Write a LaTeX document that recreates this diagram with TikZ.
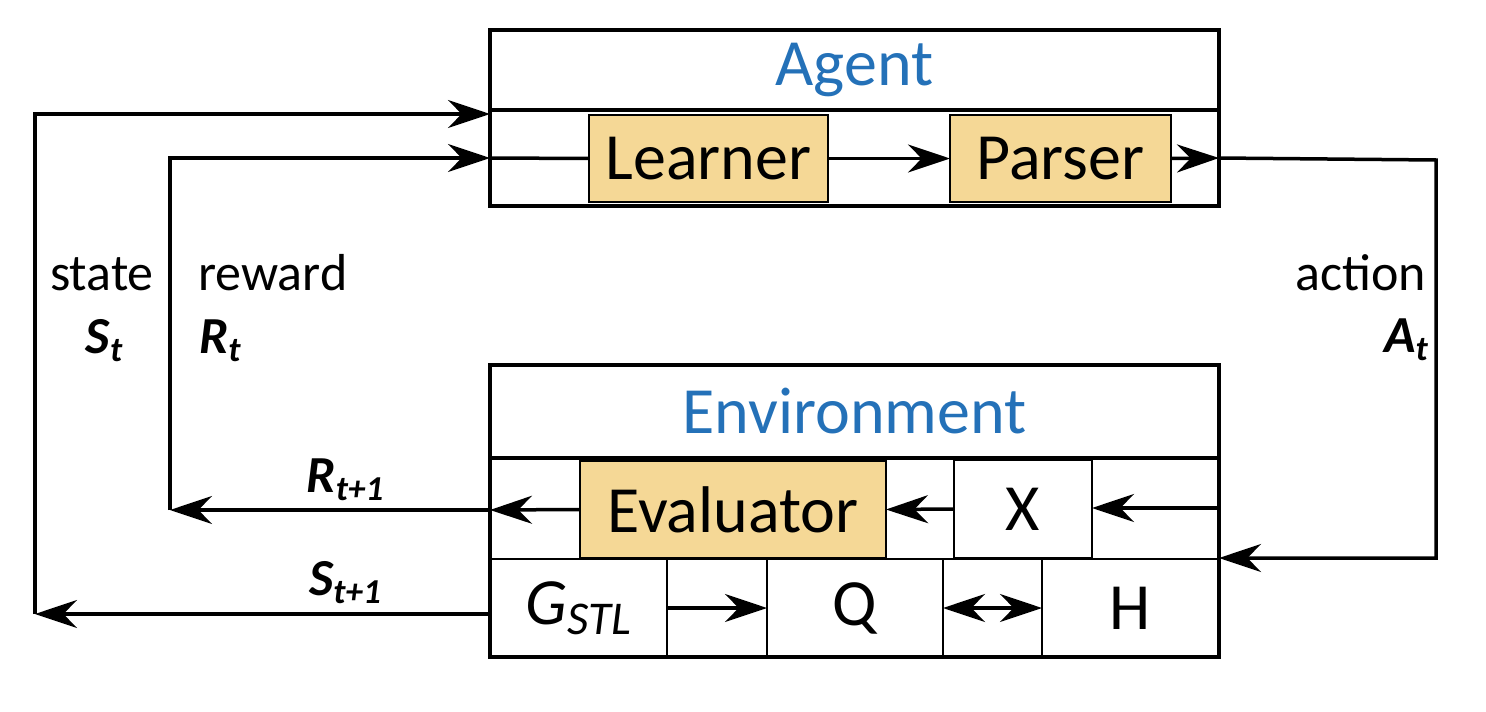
\documentclass[tikz,border=0pt]{standalone}
\usepackage{fontspec}
\setmainfont{Carlito}
\usetikzlibrary{arrows.meta}
\definecolor{boxfill}{RGB}{245,216,150}
\definecolor{titleblue}{RGB}{36,113,184}
\newcommand\lsub[1]{\raisebox{-8pt}{\fontsize{35}{38}\selectfont #1}}
\begin{document}
\begin{tikzpicture}[x=1pt,y=-1pt,
  obox/.style={draw, line width=3.5pt, inner sep=0pt, outer sep=0pt},
  cell/.style={draw, line width=2.5pt, inner sep=0pt, outer sep=0pt, font=\fontsize{66}{72}\selectfont},
  comp/.style={cell, fill=boxfill},
  ttl/.style={font=\fontsize{66}{72}\selectfont, text=titleblue},
  lab/.style={font=\fontsize{52}{58}\selectfont, inner sep=0pt},
  arr/.style={line width=3.5pt, -{Stealth[length=42pt,width=28pt]}},
  dbl/.style={line width=3.5pt, {Stealth[length=42pt,width=28pt]}-{Stealth[length=42pt,width=28pt]}},
  ln/.style={line width=3.5pt}
]
\useasboundingbox (0,0) rectangle (1486,712);

% Agent
\node[obox, minimum width=729pt, minimum height=80pt, ttl] (agentT) at (854.5,70) {Agent};
\node[obox, minimum width=729pt, minimum height=96pt] (agent) at (854.5,158) {};
\node[comp, minimum width=239pt, minimum height=87pt] (learner) at (708.5,158.5) {Learner};
\node[comp, minimum width=221pt, minimum height=87pt] (parser) at (1060.5,158.5) {Parser};

% Environment
\node[obox, minimum width=729pt, minimum height=93pt, ttl] (envT) at (854.5,411.5) {Environment};
\node[cell, minimum width=90pt, minimum height=101pt] (c1) at (535,508.5) {};
\node[cell, minimum width=68pt, minimum height=101pt] (c2) at (920,508.5) {};
\node[cell, minimum width=127pt, minimum height=101pt] (c3) at (1155.5,508.5) {};
\node[cell, minimum width=100pt, minimum height=98pt] (c4) at (717,608) {};
\node[cell, minimum width=99pt, minimum height=98pt] (c5) at (992.5,608) {};
\node[comp, minimum width=306pt, minimum height=97pt] (eval) at (733,509.5) {Evaluator};
\node[cell, minimum width=138pt, minimum height=98pt] (xcell) at (1023,509) {X};
\node[cell, minimum width=177pt, minimum height=98pt] (gstl) at (578.5,608) {\itshape G\raisebox{-10pt}{\fontsize{47}{50}\selectfont STL}};
\node[cell, minimum width=176pt, minimum height=98pt] (qcell) at (855,608) {Q};
\node[cell, minimum width=177pt, minimum height=98pt] (hcell) at (1130.5,608) {H};
\node[obox, minimum width=729pt, minimum height=199pt] (env) at (854.5,557.5) {};

% coordinates
\coordinate (sIn) at (agent.west |- 0,114);
\coordinate (rIn) at (agent.west |- 0,158);
\coordinate (sCorner) at (35,614);
\coordinate (sTop) at (35,114);
\coordinate (rOut) at (env.west |- 0,510);
\coordinate (rCorner) at (170,510);
\coordinate (rTop) at (170,158);
\coordinate (aOut) at (agent.east |- 0,158);
\coordinate (aTop) at (1436,160);
\coordinate (aBot) at (1436,558);
\coordinate (aIn) at (env.east |- 0,558);
\coordinate (xIn) at (env.east |- 0,508);

% connectors
\draw[arr] (learner) -- (parser);
\draw[arr] (parser.east) -- (aOut);
\draw[arr] (aOut) -- (aTop) -- (aBot) -- (aIn);
\draw[arr] (xIn) -- (xcell.east |- xIn);
\draw[arr] (xcell.west) -- (eval.east);
\draw[arr] (eval.west) -- (rOut);
\draw[arr] (rOut) -- (rCorner);
\draw[arr] (rCorner) -- (rTop) -- (rIn);
\draw[ln] (rIn) -- (learner.west);
\draw[arr] (gstl.east) -- (qcell.west);
\draw[dbl] (qcell.east) -- (hcell.west);
\draw[arr] (gstl.west |- 0,614) -- (sCorner);
\draw[arr] (sCorner) -- (sTop) -- (sIn);

% labels
\node[lab, anchor=base] (stateL) at (102,290) {state};
\node[lab, anchor=base] (stateS) at (104,353) {\bfseries\itshape S\lsub{t}};
\node[lab, anchor=base west] (rewL) at (198,290) {reward};
\node[lab, anchor=base west] (rewR) at (199,353) {\bfseries\itshape R\lsub{t}};
\node[lab, anchor=base east] (actL) at (1426,290) {action};
\node[lab, anchor=base east] (actA) at (1428,352) {\bfseries\itshape A\lsub{t}};
\node[lab, anchor=base] (rNext) at (345,492) {\bfseries\itshape R\lsub{t+1}};
\node[lab, anchor=base] (sNext) at (345,595) {\bfseries\itshape S\lsub{t+1}};
\end{tikzpicture}
\end{document}
